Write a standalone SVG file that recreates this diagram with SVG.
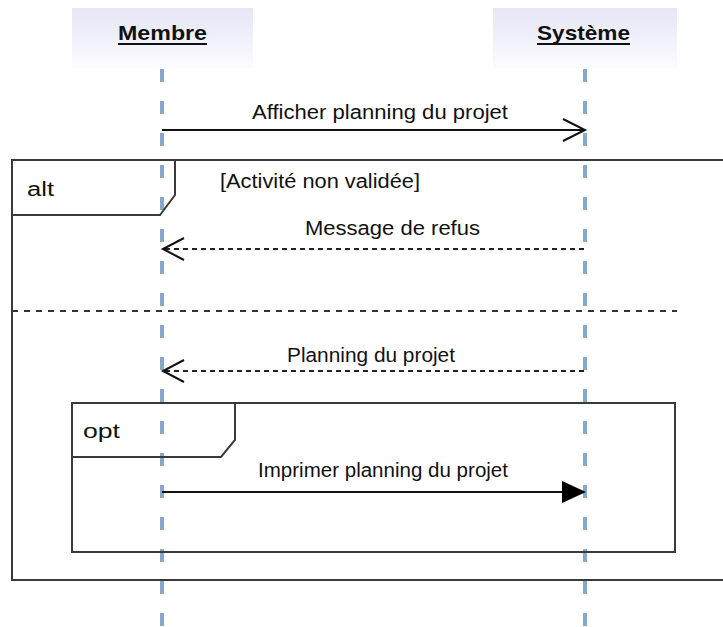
<svg xmlns="http://www.w3.org/2000/svg" width="723" height="627" viewBox="0 0 723 627">
<style>
text{font-family:"Liberation Sans",Arial,sans-serif;font-size:20px;fill:#111}
.hdr{font-weight:bold;font-size:21px}
.life{stroke:#86a8cc;stroke-width:4;stroke-dasharray:13 19;fill:none}
.frame{stroke:#3a3a3a;stroke-width:2;fill:none}
.msg{stroke:#111;stroke-width:2;fill:none}
.ret{stroke:#222;stroke-width:2;fill:none;stroke-dasharray:5 4}
</style>
<defs>
<linearGradient id="hg" x1="0" y1="0" x2="0" y2="1">
<stop offset="0" stop-color="#e6e6f6"/>
<stop offset="1" stop-color="#fbfbff"/>
</linearGradient>
</defs>
<rect width="723" height="627" fill="#fff"/>
<g id="membre">
<rect x="72" y="8" width="181" height="60" fill="url(#hg)"/>
<text class="hdr" x="118" y="40" textLength="89" lengthAdjust="spacingAndGlyphs">Membre</text>
<line x1="118" y1="44" x2="207" y2="44" stroke="#111" stroke-width="2"/>
<line class="life" x1="162" y1="69" x2="162" y2="627"/>
</g>
<g id="systeme">
<rect x="493" y="8" width="184" height="60" fill="url(#hg)"/>
<text class="hdr" x="537" y="40" textLength="93" lengthAdjust="spacingAndGlyphs">Système</text>
<line x1="537" y1="44" x2="630" y2="44" stroke="#111" stroke-width="2"/>
<line class="life" x1="585" y1="69" x2="585" y2="627"/>
</g>
<g id="alt">
<path class="frame" d="M725,160 H12 V580 H725"/>
<path class="frame" d="M12,160 H175 V195 L160,215 H12"/>
<text x="27" y="196" textLength="27" lengthAdjust="spacingAndGlyphs">alt</text>
<text x="220" y="188" textLength="200" lengthAdjust="spacingAndGlyphs">[Activité non validée]</text>
<line x1="12" y1="311" x2="677" y2="311" stroke="#333" stroke-width="2" stroke-dasharray="6 6"/>
</g>
<g id="opt">
<rect class="frame" x="72" y="403" width="603" height="149"/>
<path class="frame" d="M72,403 H235 V440 L221,457 H72"/>
<text x="83" y="438" textLength="37" lengthAdjust="spacingAndGlyphs">opt</text>
</g>
<g id="connectors">
<line class="msg" x1="162" y1="130" x2="584" y2="130"/>
<path class="msg" d="M563,119 L585,130 L563,141"/>
<text x="252" y="119" textLength="256" lengthAdjust="spacingAndGlyphs">Afficher planning du projet</text>
<line class="ret" x1="584" y1="249" x2="164" y2="249"/>
<path class="msg" d="M184,238 L163,249 L184,260"/>
<text x="305" y="235" textLength="175" lengthAdjust="spacingAndGlyphs">Message de refus</text>
<line class="ret" x1="584" y1="371" x2="164" y2="371"/>
<path class="msg" d="M184,360 L163,371 L184,382"/>
<text x="287" y="362" textLength="168" lengthAdjust="spacingAndGlyphs">Planning du projet</text>
<line class="msg" x1="162" y1="492" x2="565" y2="492"/>
<path d="M562,481 L586,492 L562,503 Z" fill="#000"/>
<text x="258" y="477" textLength="250" lengthAdjust="spacingAndGlyphs">Imprimer planning du projet</text>
</g>
</svg>
